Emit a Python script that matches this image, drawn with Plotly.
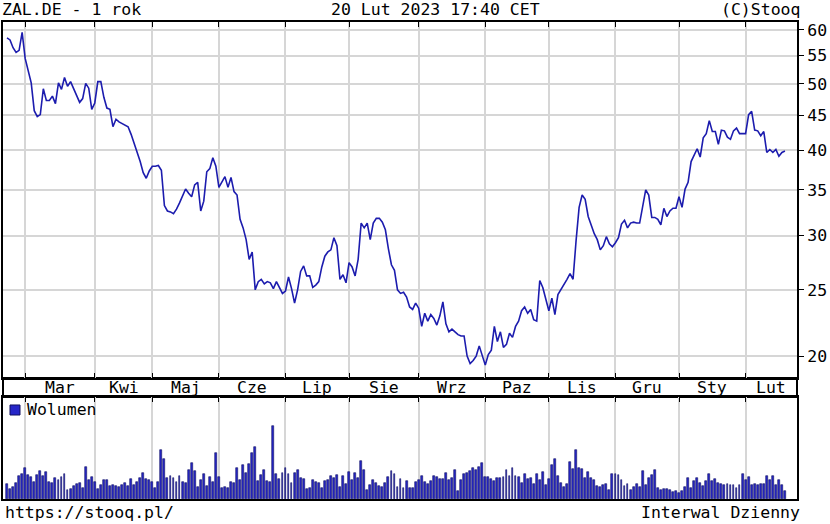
import pandas as pd
import plotly.graph_objects as go

# ZAL.DE, daily, 1 year back from 20 Feb 2023 (Xetra sessions)
start_date = "2022-02-21"
end_date = "2023-02-20"
holidays = ["2022-04-15", "2022-04-18", "2022-12-26"]

month_names = ["Mar", "Kwi", "Maj", "Cze", "Lip", "Sie",
               "Wrz", "Paz", "Lis", "Gru", "Sty", "Lut"]
price_ticks = [20, 25, 30, 35, 40, 45, 50, 55, 60]

close = [
    58.4, 58.0, 56.5, 55.6, 56.0, 59.5, 54.5, 52.2, 50.2, 45.7,
    44.8, 45.1, 49.2, 47.3, 47.3, 48.0, 46.8, 50.2, 49.1, 51.1,
    49.6, 50.4, 49.3, 48.2, 47.0, 47.6, 50.1, 49.3, 45.9, 46.9,
    50.4, 50.4, 47.8, 46.1, 45.9, 43.3, 44.4, 44.0, 43.8, 43.5,
    43.3, 42.2, 41.0, 39.8, 38.5, 37.1, 36.4, 37.3, 37.9, 37.9,
    38.0, 37.4, 33.2, 32.6, 32.5, 32.3, 32.8, 33.5, 34.2, 35.1,
    34.6, 34.2, 35.6, 35.9, 32.6, 33.7, 37.2, 37.6, 39.0, 37.9,
    35.3, 36.0, 36.6, 35.3, 36.5, 34.8, 34.4, 31.7, 30.8, 29.6,
    27.7, 28.4, 25.0, 25.7, 25.9, 25.5, 25.7, 25.6, 25.1, 25.7,
    25.2, 24.7, 24.9, 26.1, 25.1, 23.9, 25.0, 26.6, 27.1, 26.2,
    26.2, 25.2, 25.4, 25.7, 27.0, 28.0, 28.4, 28.6, 29.8, 29.0,
    25.9, 26.3, 25.6, 27.4, 27.0, 26.2, 27.7, 31.3, 30.8, 31.3,
    29.6, 31.3, 31.8, 31.8, 31.4, 30.6, 28.7, 27.2, 26.7, 25.0,
    24.7, 24.8, 24.4, 23.6, 23.4, 23.9, 23.5, 22.1, 23.1, 22.5,
    23.0, 22.7, 22.2, 22.9, 24.0, 22.3, 21.7, 21.9, 21.7, 21.5,
    21.4, 21.4, 20.0, 19.5, 19.7, 20.0, 20.7, 20.0, 19.4, 20.1,
    20.4, 22.1, 21.0, 21.7, 20.6, 20.8, 21.6, 21.3, 22.1, 22.5,
    23.3, 23.6, 23.1, 23.4, 22.6, 22.5, 25.8, 25.2, 24.2, 23.3,
    24.3, 23.0, 24.6, 25.0, 25.4, 25.9, 26.4, 25.9, 29.5, 33.0,
    34.4, 33.9, 32.0, 31.1, 30.2, 29.6, 28.6, 29.0, 29.9, 29.2,
    28.9, 29.3, 29.8, 31.2, 31.6, 30.8, 31.3, 31.4, 31.3, 31.3,
    33.0, 35.0, 34.4, 31.9, 31.9, 31.7, 31.1, 32.9, 32.0, 32.6,
    32.9, 32.9, 34.2, 33.0, 35.1, 35.9, 38.5, 39.4, 40.2, 39.1,
    41.7, 42.3, 44.2, 42.6, 42.6, 40.8, 42.8, 42.7, 41.8, 41.5,
    42.7, 43.1, 42.3, 42.3, 42.3, 45.1, 45.6, 42.8, 42.7, 42.0,
    42.6, 39.7, 40.1, 39.7, 40.1, 39.2, 39.7, 39.9,
]

# volume, relative units (no scale shown on the chart)
volume = [
    15, 10, 12, 16, 23, 25, 31, 24, 22, 17,
    24, 28, 23, 27, 17, 16, 21, 19, 22, 25,
    9, 10, 13, 15, 16, 11, 32, 19, 22, 17,
    10, 14, 19, 19, 13, 14, 13, 12, 14, 16,
    13, 20, 14, 17, 21, 26, 20, 19, 17, 11,
    17, 49, 40, 21, 23, 21, 17, 23, 17, 16,
    29, 36, 28, 12, 19, 25, 13, 22, 17, 46,
    22, 11, 12, 11, 17, 16, 31, 19, 34, 26,
    35, 46, 52, 18, 24, 29, 18, 17, 73, 25,
    20, 26, 31, 25, 16, 26, 29, 21, 20, 10,
    11, 19, 17, 16, 11, 18, 19, 23, 21, 24,
    12, 23, 15, 27, 19, 26, 21, 38, 29, 9,
    14, 19, 16, 13, 12, 16, 22, 28, 25, 12,
    20, 11, 18, 11, 11, 17, 19, 23, 17, 15,
    18, 23, 22, 20, 20, 26, 19, 21, 29, 8,
    19, 25, 26, 28, 31, 29, 32, 36, 22, 22,
    20, 18, 21, 21, 22, 29, 23, 31, 23, 22,
    16, 25, 20, 21, 15, 25, 19, 27, 14, 20,
    34, 40, 23, 16, 12, 15, 37, 30, 49, 31,
    30, 21, 27, 21, 19, 13, 12, 14, 15, 9,
    25, 25, 24, 19, 13, 15, 9, 12, 15, 12,
    28, 14, 21, 24, 29, 11, 9, 10, 10, 9,
    7, 8, 6, 8, 12, 21, 11, 18, 21, 16,
    13, 18, 25, 18, 20, 16, 15, 14, 15, 14,
    14, 11, 14, 25, 19, 22, 14, 15, 14, 15,
    15, 23, 19, 23, 14, 19, 14, 8,
]

dates = pd.bdate_range(start_date, end_date)
dates = dates[~dates.isin(pd.to_datetime(holidays))]
idx = list(range(len(dates)))

# month boundaries in session index
month_starts = [i for i in idx[1:] if dates[i].month != dates[i - 1].month]
x_min, x_max = -1.32, 260.98
bounds = month_starts + [x_max]
month_mid = [(bounds[k] + bounds[k + 1]) / 2 for k in range(len(month_starts))]

FONT = "DejaVu Sans Mono"
LINE_BLUE = "#1c1cae"
GRID = "#d6d6d6"

fig = go.Figure()

fig.add_trace(
    go.Scatter(
        x=idx, y=close, mode="lines",
        line=dict(color=LINE_BLUE, width=1.6),
        xaxis="x", yaxis="y", showlegend=False,
    )
)
fig.add_trace(
    go.Bar(
        x=idx, y=volume, width=0.62,
        marker=dict(color="#2626c8", line=dict(color="#101060", width=0.6)),
        xaxis="x2", yaxis="y2", showlegend=False,
    )
)

price_bottom = 0.2537
vol_top = 0.2138

fig.update_layout(
    width=830, height=524,
    margin=dict(l=3, r=33, t=22, b=25),
    paper_bgcolor="white", plot_bgcolor="white",
    font=dict(family=FONT, size=16.5, color="black"),
    bargap=0,
    xaxis=dict(
        domain=[0, 1], range=[x_min, x_max],
        tickmode="array", tickvals=month_starts, showticklabels=False,
        ticks="inside", ticklen=5, tickcolor="black",
        showgrid=True, gridcolor=GRID, gridwidth=1.5,
        showline=True, linecolor="black", linewidth=2, mirror="ticks",
        zeroline=False, anchor="y",
    ),
    yaxis=dict(
        domain=[price_bottom, 1], type="log",
        range=[1.2690, 1.7896],
        side="right", tickmode="array", tickvals=price_ticks,
        ticktext=[str(v) for v in price_ticks],
        ticks="outside", ticklen=5, tickcolor="black",
        showgrid=True, gridcolor=GRID, gridwidth=1.5,
        showline=True, linecolor="black", linewidth=2, mirror=True,
        zeroline=False, anchor="x", automargin=False,
    ),
    xaxis2=dict(
        domain=[0, 1], range=[x_min, x_max], side="top",
        tickmode="array", tickvals=month_starts, showticklabels=False,
        ticks="inside", ticklen=5, tickcolor="black",
        showgrid=True, gridcolor=GRID, gridwidth=1.5,
        showline=True, linecolor="black", linewidth=2, mirror=True,
        zeroline=False, anchor="y2",
    ),
    yaxis2=dict(
        domain=[0, vol_top], range=[0, 102],
        showticklabels=False, ticks="", showgrid=False,
        showline=True, linecolor="black", linewidth=2, mirror=True,
        zeroline=False, anchor="x2",
    ),
)

# band holding month names between the two panels
fig.add_shape(
    type="rect", xref="paper", yref="paper",
    x0=0, x1=1, y0=vol_top, y1=price_bottom,
    line=dict(color="black", width=2), fillcolor="white", layer="below",
)
for m, name in zip(month_mid, month_names):
    fig.add_annotation(
        x=m, xref="x", y=(vol_top + price_bottom) / 2, yref="paper",
        text=name, showarrow=False, xanchor="center", yanchor="middle",
    )

# legend marker for volume
fig.add_shape(
    type="rect", xref="paper", yref="paper",
    x0=0.0088, x1=0.0214, y0=0.1761, y1=0.1971,
    fillcolor="#2626c8", line=dict(color="#101060", width=1),
)
fig.add_annotation(
    x=0.0277, xref="paper", y=0.1866, yref="paper", text="Wolumen",
    showarrow=False, xanchor="left", yanchor="middle",
)

# header and footer
header = [
    ("ZAL.DE - 1 rok", -0.0038, "left"),
    ("20 Lut 2023 17:40 CET", 0.5453, "center"),
    ("(C)Stooq", 1.0063, "right"),
]
for text, x, anchor in header:
    fig.add_annotation(
        x=x, xref="paper", y=1.0252, yref="paper", text=text,
        showarrow=False, xanchor=anchor, yanchor="middle",
    )
footer = [
    ("https://stooq.pl/", 0.0, "left"),
    ("Interwal Dzienny", 1.0063, "right"),
]
for text, x, anchor in footer:
    fig.add_annotation(
        x=x, xref="paper", y=-0.0273, yref="paper", text=text,
        showarrow=False, xanchor=anchor, yanchor="middle",
    )

# the page body has a default 8px margin; drop it so the chart sits at 0,0
fig.write_html(
    "out.html",
    config={"displayModeBar": False},
    post_script="document.body.style.margin='0';",
)
